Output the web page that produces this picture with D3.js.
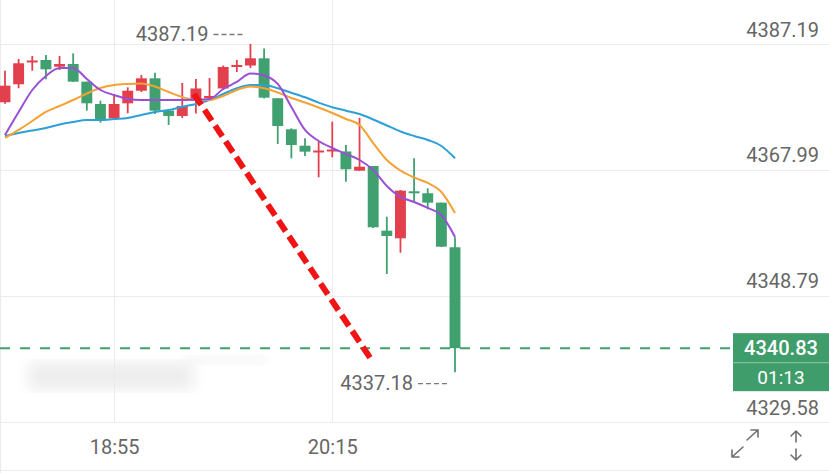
<!DOCTYPE html>
<html><head><meta charset="utf-8">
<script src="https://cdn.jsdelivr.net/npm/d3@7"></script>
<style>
body{margin:0;background:#fff}
svg{display:block;font-family:Roboto,"DejaVu Sans",sans-serif}
</style>
</head><body><svg id="c" width="829" height="473"></svg>
<script>
const times = ["18:15","18:20","18:25","18:30","18:35","18:40","18:45","18:50","18:55","19:00","19:05","19:10","19:15","19:20","19:25","19:30","19:35","19:40","19:45","19:50","19:55","20:00","20:05","20:10","20:15","20:20","20:25","20:30","20:35","20:40","20:45","20:50","20:55","21:00"];
const openP  = [4378.31,4381.05,4384.40,4384.75,4383.73,4384.14,4381.45,4378.05,4375.87,4378.15,4380.07,4381.96,4377.03,4376.22,4378.50,4379.11,4380.41,4383.84,4383.91,4385.01,4378.92,4374.19,4371.69,4370.81,4370.96,4370.81,4367.88,4368.60,4358.74,4357.58,4364.74,4364.44,4363.01,4356.21];
const closeP = [4380.84,4384.25,4384.68,4383.33,4384.14,4381.45,4378.15,4375.72,4378.05,4380.07,4381.96,4377.03,4376.22,4377.74,4380.41,4379.27,4383.69,4383.99,4385.01,4379.01,4374.69,4371.80,4370.78,4370.96,4371.11,4368.10,4368.49,4359.26,4357.93,4364.84,4364.59,4363.01,4356.30,4340.83];
const highP  = [4383.12,4384.90,4385.36,4385.51,4385.36,4385.77,4381.45,4378.55,4379.42,4380.59,4382.47,4382.82,4377.29,4381.25,4381.86,4382.01,4383.91,4384.75,4387.19,4386.50,4378.92,4374.34,4372.82,4372.30,4375.35,4371.80,4375.94,4368.60,4360.87,4364.94,4369.77,4365.20,4363.01,4357.73];
const lowP   = [4378.10,4380.44,4383.12,4381.81,4383.23,4381.40,4377.03,4375.20,4375.76,4376.63,4379.88,4376.52,4374.85,4375.91,4376.60,4378.66,4380.18,4382.92,4383.53,4378.89,4371.95,4369.77,4370.12,4366.88,4369.93,4366.21,4367.83,4359.15,4352.14,4355.39,4363.11,4362.00,4356.25,4337.18];
const maPurple = [4373.32,4376.83,4380.18,4382.31,4383.53,4383.53,4381.86,4380.18,4379.42,4378.81,4378.66,4378.66,4378.66,4378.66,4378.73,4378.81,4380.33,4381.40,4382.70,4382.39,4381.10,4377.59,4374.09,4372.41,4371.34,4370.43,4369.51,4367.99,4365.55,4363.88,4363.11,4362.20,4361.13,4357.78];
const maOrange = [4372.87,4374.09,4375.46,4376.83,4377.74,4378.66,4379.65,4380.49,4380.94,4381.10,4381.17,4380.71,4379.88,4379.11,4378.66,4378.66,4379.27,4380.18,4380.71,4380.44,4379.80,4378.96,4378.28,4377.51,4376.68,4375.76,4374.85,4372.10,4369.51,4367.91,4366.85,4366.01,4364.64,4361.44];
const maBlue   = [4373.17,4373.63,4374.01,4374.39,4374.92,4375.30,4375.61,4375.61,4375.76,4375.91,4376.37,4376.83,4377.13,4377.64,4378.05,4378.66,4379.57,4380.44,4380.94,4380.94,4380.44,4379.77,4379.07,4378.25,4377.54,4377.03,4376.52,4375.69,4374.77,4373.86,4373.17,4372.56,4371.65,4369.77];
const priceTicks = [4387.19,4367.99,4348.79,4329.58];
const timeTicks = ["18:55","20:15"];
const maxMark = {t:"19:45", v:4387.19};
const minMark = {t:"21:00", v:4337.18};
const lastPrice = 4340.83;
const countdown = "01:13";
const trendLine = [[13.86,4379.57],[26.98,4338.73]];

const svg = d3.select("#c");
const W = 829, H = 473;
const x = d3.scalePoint().domain(times).range([5, 455]);
const xi = d3.scaleLinear().domain([0, times.length-1]).range([5, 455]);
const y = d3.scaleLinear().domain([4329.58, 4387.19]).range([422, 44]);
const step = x.step();
const bw = step*0.8;
const RED = "#e3404e", GREEN = "#40a06f";
const GRID = "#ebebeb", TXT = "#666666";

// faint blurred watermark
const defs = svg.append("defs");
defs.append("filter").attr("id","blur").append("feGaussianBlur").attr("stdDeviation",7);
svg.append("rect").attr("x",28).attr("y",362).attr("width",165).attr("height",28).attr("fill","#e9e9e9").attr("filter","url(#blur)").attr("opacity",0.8);
svg.append("rect").attr("x",185).attr("y",356).attr("width",80).attr("height",8).attr("fill","#ededed").attr("filter","url(#blur)").attr("opacity",0.7);

// grid
svg.append("g").selectAll("line").data(priceTicks).join("line")
  .attr("x1",0).attr("x2",W).attr("y1",d=>Math.round(y(d))+0.5).attr("y2",d=>Math.round(y(d))+0.5)
  .attr("stroke",GRID).attr("stroke-width",1);
svg.append("g").selectAll("line").data(timeTicks).join("line")
  .attr("x1",d=>Math.round(x(d))+0.5).attr("x2",d=>Math.round(x(d))+0.5).attr("y1",0).attr("y2",422)
  .attr("stroke",GRID).attr("stroke-width",1);
svg.append("line").attr("x1",0.5).attr("x2",0.5).attr("y1",0).attr("y2",H).attr("stroke",GRID);
svg.append("line").attr("x1",0).attr("x2",W).attr("y1",470.5).attr("y2",470.5).attr("stroke",GRID);

// right axis labels
const yAxis = d3.axisRight(y).tickValues(priceTicks).tickSize(0).tickFormat(d3.format(".2f"));
const ya = svg.append("g").attr("transform","translate(819,0)").call(yAxis);
ya.select(".domain").remove();
ya.selectAll("text").attr("x",0).attr("dy",-8).attr("text-anchor","end")
  .attr("fill",TXT).attr("font-size",20).attr("font-family","Roboto, sans-serif");

// bottom axis labels
const xAxis = d3.axisBottom(x).tickValues(timeTicks).tickSize(0);
const xa = svg.append("g").attr("transform","translate(0,422)").call(xAxis);
xa.select(".domain").remove();
xa.selectAll("text").attr("y",32).attr("dy",0).attr("fill",TXT).attr("font-size",20).attr("font-family","Roboto, sans-serif");

// candles
const data = times.map((t,i)=>({t,o:openP[i],c:closeP[i],h:highP[i],l:lowP[i]}));
const cg = svg.append("g");
cg.selectAll("line").data(data).join("line")
  .attr("x1",d=>x(d.t)).attr("x2",d=>x(d.t)).attr("y1",d=>y(d.h)).attr("y2",d=>y(d.l))
  .attr("stroke",d=>d.c>=d.o?RED:GREEN).attr("stroke-width",1.8);
cg.selectAll("rect").data(data).join("rect")
  .attr("x",d=>x(d.t)-bw/2).attr("width",bw)
  .attr("y",d=>y(Math.max(d.o,d.c)))
  .attr("height",d=>Math.max(2, Math.abs(y(d.o)-y(d.c))))
  .attr("fill",d=>d.c>=d.o?RED:GREEN);

// moving averages
const line = d3.line().x((d,i)=>x(times[i])).y(d=>y(d)).curve(d3.curveMonotoneX);
[[maBlue,"#2ea0d8"],[maOrange,"#f5a133"],[maPurple,"#9a4fd6"]].forEach(([arr,col])=>{
  svg.append("path").attr("d",line(arr)).attr("fill","none").attr("stroke",col).attr("stroke-width",2);
});

// current price dashed line
svg.append("line").attr("x1",0).attr("x2",733).attr("y1",y(lastPrice)).attr("y2",y(lastPrice))
  .attr("stroke",GREEN).attr("stroke-width",2).attr("stroke-dasharray","10,10");

// trend annotation
svg.append("line")
  .attr("x1",xi(trendLine[0][0])).attr("y1",y(trendLine[0][1]))
  .attr("x2",xi(trendLine[1][0])).attr("y2",y(trendLine[1][1]))
  .attr("stroke","#f01414").attr("stroke-width",6).attr("stroke-dasharray","13,6");

// max / min markers
function marker(m, dy){
  const px = x(m.t), py = y(m.v);
  svg.append("line").attr("x1",px-37).attr("x2",px-8).attr("y1",py+dy+0.5).attr("y2",py+dy+0.5)
    .attr("stroke","#7a7a7a").attr("stroke-width",1.3).attr("stroke-dasharray","5,3");
  svg.append("text").attr("x",px-42).attr("y",py+dy+7).attr("text-anchor","end")
    .attr("fill",TXT).attr("font-size",20).text(m.v.toFixed(2));
}
marker(maxMark, -10);
marker(minMark, 11);

// last price box
const by = y(lastPrice);
svg.append("rect").attr("x",733).attr("y",by-15).attr("width",96).attr("height",58).attr("fill","#3f9d6b");
svg.append("line").attr("x1",733).attr("x2",829).attr("y1",by+14.5).attr("y2",by+14.5).attr("stroke","#8fcaa9").attr("stroke-width",1);
svg.append("text").attr("x",781).attr("y",by+7).attr("text-anchor","middle").attr("fill","#fff").attr("font-size",20).attr("font-weight",500).text(lastPrice.toFixed(2));
svg.append("text").attr("x",781).attr("y",by+36).attr("text-anchor","middle").attr("fill","#fff").attr("font-size",19).text(countdown);

// icons
const ic = svg.append("g").attr("fill","none").attr("stroke","#707070").attr("stroke-width",1.6).attr("stroke-linecap","round").attr("stroke-linejoin","round");
ic.append("path").attr("d","M747,440 L758,430 M751,430 L758,430 L758,437");
ic.append("path").attr("d","M743,447 L732,457 M732,450 L732,457 L739,457");
ic.append("path").attr("d","M796,431 L796,442 M791,436 L796,431 L801,436");
ic.append("path").attr("d","M796,449 L796,460 M791,455 L796,460 L801,455");
</script>
</body></html>
